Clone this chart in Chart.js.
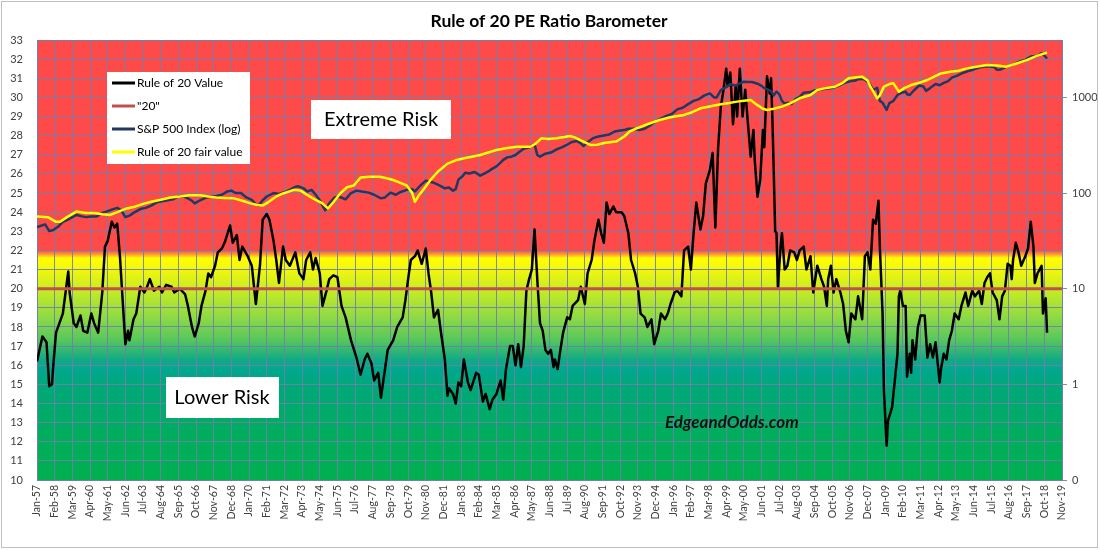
<!DOCTYPE html>
<html>
<head>
<meta charset="utf-8">
<script src="https://cdn.jsdelivr.net/npm/chart.js@4.4.1/dist/chart.umd.min.js"></script>
<style>
  html, body { margin: 0; padding: 0; background: #fff; }
  #wrap { width: 1100px; height: 550px; }
</style>
</head>
<body>
<div id="wrap"><canvas id="c" width="1100" height="550"></canvas></div>
<script>
// x values are months counted from Jan-57
const tickLabels = ["Jan-57","Feb-58","Mar-59","Apr-60","May-61","Jun-62","Jul-63","Aug-64","Sep-65","Oct-66","Nov-67","Dec-68",
  "Jan-70","Feb-71","Mar-72","Apr-73","May-74","Jun-75","Jul-76","Aug-77","Sep-78","Oct-79","Nov-80","Dec-81",
  "Jan-83","Feb-84","Mar-85","Apr-86","May-87","Jun-88","Jul-89","Aug-90","Sep-91","Oct-92","Nov-93","Dec-94",
  "Jan-96","Feb-97","Mar-98","Apr-99","May-00","Jun-01","Jul-02","Aug-03","Sep-04","Oct-05","Nov-06","Dec-07",
  "Jan-09","Feb-10","Mar-11","Apr-12","May-13","Jun-14","Jul-15","Aug-16","Sep-17","Oct-18","Nov-19"];

// Rule of 20 value (left axis)
const r20Months = [0,4,7,9,11,12,14,19,23,24,27,29,32,34,37,40,42,45,48,50,52,55,57,59,61,65,67,68,71,73,76,79,81,83,86,90,92,95,99,101,
  105,109,111,114,116,119,121,124,126,128,131,133,136,138,142,144,147,149,151,155,158,161,164,166,169,171,174,176,178,181,183,186,
  190,193,196,198,201,203,205,208,210,213,215,218,221,224,227,231,235,238,241,243,246,248,251,253,256,258,262,265,269,271,273,275,
  278,280,283,286,288,290,292,295,297,300,302,303,306,308,310,312,314,317,319,323,325,328,330,333,335,338,341,343,345,348,350,352,
  354,356,358,360,362,364,366,368,370,372,374,376,378,380,381,383,385,387,390,392,394,398,400,403,405,408,410,413,415,417,419,421,
  424,426,430,432,435,437,440,442,444,447,449,452,454,457,459,462,464,466,469,471,474,476,479,481,483,485,488,490,492,495,497,499,
  501,503,505,507,508,510,512,514,515,517,519,521,523,525,527,528,530,532,534,535,537,539,540,541,542,543,544,545,547,548,550,552,
  554,557,559,561,564,566,569,571,574,577,579,581,582,584,586,588,591,593,595,597,599,602,604,607,609,611,613,615,617,619,620,622,
  623,625,626,629,631,633,634,635,637,639,640,642,643,644,646,648,650,653,655,657,659,661,664,665,667,669,671,673,675,678,680,683,
  685,688,690,693,695,697,699,701,703,706,708,710,712,714,716,717,718,720,722,724,727,729,731,733,734,736,739,740,742,743];
const r20Values = [16.2,17.5,17.2,14.9,15.0,16.0,17.7,18.7,20.9,19.8,18.2,18.0,18.6,17.8,17.7,18.7,18.2,17.7,19.8,22.2,22.5,23.5,23.2,23.4,21.7,17.1,17.8,17.3,18.4,18.7,20.1,19.8,20.1,20.5,19.9,20.1,19.8,20.2,20.1,19.8,
  20.0,19.7,19.1,18.0,17.5,18.2,19.1,19.9,20.8,20.6,21.2,21.9,22.1,22.4,23.3,22.4,22.8,21.5,22.2,21.7,21.2,19.2,21.2,23.6,23.9,23.6,22.5,21.5,20.3,22.2,21.5,21.2,
  21.9,20.8,20.5,21.5,21.9,21.0,21.6,20.8,19.1,19.9,20.5,20.7,20.6,19.1,18.5,17.3,16.4,15.5,16.3,16.6,16.1,15.2,15.6,14.3,15.8,16.8,17.3,18.0,18.5,19.4,20.5,21.5,
  21.7,22.0,21.3,22.1,20.8,19.8,18.5,18.9,17.8,16.3,14.4,14.8,14.5,14.0,15.1,14.9,16.3,15.1,14.7,15.6,15.5,14.1,14.5,13.7,14.2,14.5,15.2,14.2,15.8,17.0,17.0,16.0,
  17.1,15.9,17.0,19.9,20.5,21.0,23.1,20.5,18.2,17.8,16.8,16.6,16.8,15.9,16.3,15.8,16.8,17.7,18.5,18.4,19.1,19.4,20.1,19.2,20.8,21.5,22.5,23.6,22.9,22.4,24.5,23.9,
  24.3,24.0,24.0,23.8,22.9,21.5,20.8,20.1,18.7,18.5,18.0,18.4,17.1,17.8,18.7,18.4,18.7,19.2,19.8,19.9,19.6,22.0,22.2,21.0,22.9,24.5,23.1,23.8,25.5,26.2,27.1,23.2,
  27.3,29.5,30.4,31.5,30.6,31.3,28.6,30.6,29.0,31.5,29.0,30.4,28.6,26.9,28.3,26.7,24.8,25.7,28.3,27.4,31.1,30.2,31.0,28.8,26.0,23.0,22.9,20.1,22.2,22.9,21.0,21.2,
  22.0,21.9,21.5,22.0,22.2,21.0,21.7,19.8,21.2,20.5,20.1,19.1,20.5,21.2,19.8,20.5,19.8,19.2,17.8,17.2,18.7,18.4,19.6,18.4,21.7,21.9,21.0,23.6,23.4,24.6,22.2,18.7,
  14.7,11.8,13.1,13.8,15.2,16.6,19.6,19.9,19.1,19.1,15.4,16.6,15.6,17.3,16.3,18.0,18.6,18.6,16.4,17.1,16.4,17.2,15.1,15.8,16.6,16.3,17.3,17.8,18.7,18.4,19.1,19.8,
  19.1,19.9,19.6,19.9,19.2,20.3,20.6,20.8,19.8,19.4,18.4,19.6,19.9,21.3,21.2,20.5,21.5,22.4,21.9,21.2,21.7,22.1,23.5,22.2,20.3,20.8,21.2,18.7,19.5,17.7];

// "20" reference line (left axis)
const twentyMonths = [0, 754];
const twentyValues = [20, 20];

// S&P 500 index (right log axis)
const spxMonths = [0,6,9,12,16,19,22,26,29,33,36,40,44,48,51,55,59,62,65,68,71,76,80,84,88,92,96,100,104,108,111,114,116,120,124,128,132,136,140,143,
  146,150,154,158,161,163,166,169,174,178,183,187,190,192,196,199,202,205,208,211,212,215,219,222,227,231,235,240,244,248,253,256,260,264,267,272,276,278,
  282,286,288,292,296,300,303,306,308,310,313,315,318,322,326,329,332,335,338,341,343,346,349,352,355,358,362,366,368,370,374,378,382,386,390,393,397,400,
  402,405,409,413,417,421,425,429,432,435,439,443,447,451,455,459,463,467,471,475,479,483,487,491,495,498,500,503,507,510,514,516,520,523,526,530,533,535,
  538,540,542,544,546,548,550,552,555,558,561,564,568,572,576,580,585,590,594,598,602,604,607,609,612,615,618,620,622,625,627,630,633,636,639,640,642,645,
  649,652,654,657,661,664,667,670,673,677,681,685,689,693,697,701,704,706,709,712,716,719,723,727,731,733,736,739,741,743];
const spxValues = [44,47,40,41,45,50,52,56,59,57,56,57,57,62,64,67,70,66,56,58,62,68,70,74,80,82,84,86,92,92,88,83,78,84,89,92,93,96,104,106,
  100,100,90,85,76,74,84,92,100,98,103,110,116,118,112,104,108,96,84,70,66,78,90,92,86,100,106,103,101,96,88,90,101,96,102,108,110,104,
  120,135,132,128,120,112,114,106,110,138,150,163,160,166,152,160,168,180,190,208,222,236,240,250,270,290,300,325,250,240,258,265,285,300,320,340,350,330,
  310,340,375,390,400,410,440,450,455,470,470,455,470,510,560,600,640,670,750,780,850,920,960,1050,1100,1000,1000,1190,1280,1370,1330,1380,1460,1450,1450,1390,1320,1250,
  1200,1160,1050,1150,1080,920,860,880,850,960,1010,1120,1130,1180,1200,1230,1250,1330,1420,1470,1500,1550,1560,1530,1420,1200,1260,920,880,740,870,920,1060,1120,1150,1080,1060,1180,
  1330,1300,1170,1250,1380,1340,1420,1470,1610,1690,1800,1880,1960,2050,2100,2100,2080,1950,1960,2060,2150,2240,2380,2470,2670,2700,2720,2900,2740,2550];

// Rule of 20 fair value (right log axis)
const fairMonths = [0,8,14,17,22,29,36,42,48,54,60,66,72,78,84,91,98,105,112,120,126,132,138,145,151,157,162,166,170,176,181,189,194,199,205,210,214,218,223,228,
  233,238,245,252,258,262,266,272,276,278,281,285,290,295,302,308,314,320,326,332,338,346,353,363,367,371,376,382,388,392,396,402,407,412,418,426,432,436,441,450,
  458,466,476,482,488,494,500,508,515,520,525,530,534,537,542,548,554,561,569,574,580,587,592,597,603,607,611,613,616,618,620,623,627,630,634,638,643,649,655,660,
  665,672,678,684,692,699,706,713,720,728,735,740,743];
const fairValues = [57,56,50,50,56,64,62,62,60,59,64,69,72,77,81,85,90,92,95,95,92,90,89,88,83,78,75,74,80,92,99,108,106,95,85,78,69,80,99,115,
  120,145,148,148,142,137,130,120,100,81,95,112,140,168,203,220,231,240,250,265,282,295,305,305,330,373,368,373,385,395,380,345,318,320,335,345,390,440,475,530,
  581,620,656,700,769,800,834,870,903,920,940,830,760,738,760,800,866,978,1059,1194,1250,1295,1400,1585,1620,1648,1500,1295,1100,978,1050,1295,1380,1403,1148,1250,1346,1420,1520,1650,
  1780,1850,1900,2010,2100,2180,2150,2094,2250,2455,2700,2850,2940];

const logTicks = [0.1, 1, 10, 100, 1000];

function toPoints(xs, ys) {
    return xs.map((m, i) => ({ x: m, y: ys[i] }));
}

Chart.defaults.font.family = "Lato, 'Liberation Sans', sans-serif";

const gridColor = "rgba(112,128,172,0.9)";

// chart area background: red / yellow / green bands keyed to the left axis
const bandPlugin = {
    id: 'bands',
    beforeDraw(chart) {
        const ctx = chart.ctx;
        const area = chart.chartArea;
        const y = chart.scales.y;
        ctx.save();
        ctx.fillStyle = '#ffffff';
        ctx.fillRect(0, 0, chart.width, chart.height);
        const g = ctx.createLinearGradient(0, area.top, 0, area.bottom);
        const stops = [
            [33, '#ff4a4a'], [22.0, '#ff4a4a'], [21.8, '#ff9a32'], [21.6, '#ffff00'],
            [21.0, '#f2f70e'], [20.0, '#c9ec22'], [18.6, '#92db44'], [17.3, '#56c65e'],
            [16.3, '#12aa86'], [15.7, '#00a78e'], [15.0, '#00a87a'], [12.5, '#00ad5e'], [10, '#00b050']
        ];
        stops.forEach(s => {
            const f = (y.getPixelForValue(s[0]) - area.top) / (area.bottom - area.top);
            g.addColorStop(Math.min(1, Math.max(0, f)), s[1]);
        });
        ctx.fillStyle = g;
        ctx.fillRect(area.left, area.top, area.right - area.left, area.bottom - area.top);
        ctx.restore();
    },
    afterDraw(chart) {
        const ctx = chart.ctx;
        ctx.save();
        // title
        ctx.fillStyle = '#000';
        ctx.font = "bold 17.5px Lato";
        ctx.textAlign = 'center';
        ctx.textBaseline = 'middle';
        ctx.fillText('Rule of 20 PE Ratio Barometer', 549, 21);

        // legend
        ctx.fillStyle = '#fff';
        ctx.fillRect(107, 72, 143, 92);
        const entries = [
            ['Rule of 20 Value', '#000000'],
            ['"20"', '#c0504d'],
            ['S&P 500 Index (log)', '#1f3864'],
            ['Rule of 20 fair value', '#ffff00']
        ];
        ctx.textAlign = 'left';
        ctx.font = "12px Lato";
        entries.forEach((e, i) => {
            const ly = 83 + i * 23;
            ctx.strokeStyle = e[1];
            ctx.lineWidth = 3;
            ctx.beginPath();
            ctx.moveTo(112, ly);
            ctx.lineTo(135, ly);
            ctx.stroke();
            ctx.fillStyle = '#000';
            ctx.fillText(e[0], 137, ly);
        });

        // risk labels
        ctx.fillStyle = '#fff';
        ctx.fillRect(311, 100, 140, 39);
        ctx.fillRect(166, 377, 113, 41);
        ctx.fillStyle = '#000';
        ctx.font = "20px Lato";
        ctx.textAlign = 'center';
        ctx.fillText('Extreme Risk', 381, 120);
        ctx.fillText('Lower Risk', 222, 398);

        ctx.font = "italic bold 17px Lato";
        ctx.textAlign = 'left';
        ctx.fillStyle = '#111';
        ctx.fillText('EdgeandOdds.com', 665, 423);

        // outer frame
        ctx.strokeStyle = '#bfbfbf';
        ctx.lineWidth = 1;
        ctx.strokeRect(1.5, 1.5, 1096, 546);
        ctx.restore();
    }
};

const datasets = [
    {
        label: 'Rule of 20 fair value',
        data: toPoints(fairMonths, fairValues),
        yAxisID: 'y2',
        borderColor: '#ffff00',
        borderWidth: 2.5,
        order: 0
    }, {
        label: 'S&P 500 Index (log)',
        data: toPoints(spxMonths, spxValues),
        yAxisID: 'y2',
        borderColor: '#1f3864',
        borderWidth: 2.5,
        order: 1
    }, {
        label: '"20"',
        data: toPoints(twentyMonths, twentyValues),
        yAxisID: 'y',
        borderColor: '#c0504d',
        borderWidth: 3,
        order: 2
    }, {
        label: 'Rule of 20 Value',
        data: toPoints(r20Months, r20Values),
        yAxisID: 'y',
        borderColor: '#000000',
        borderWidth: 2.5,
        order: 3
    }
];

const config = {
    type: 'line',
    data: { datasets: datasets },
    options: {
        responsive: false,
        animation: false,
        events: [],
        layout: { padding: { top: 40, left: 0, right: 0, bottom: 0 } },
        elements: {
            point: { radius: 0 },
            line: { tension: 0, borderJoinStyle: 'round', fill: false }
        },
        plugins: {
            legend: { display: false },
            title: { display: false },
            tooltip: { enabled: false }
        },
        scales: {
            x: {
                type: 'linear',
                min: 0,
                max: 754,
                afterFit: s => { s.height = 70; },
                grid: { color: gridColor, drawTicks: false },
                border: { color: gridColor },
                ticks: {
                    stepSize: 13,
                    autoSkip: false,
                    minRotation: 90,
                    maxRotation: 90,
                    padding: 5,
                    color: '#404040',
                    font: { size: 10.5 },
                    callback: v => tickLabels[Math.round(v / 13)]
                }
            },
            y: {
                position: 'left',
                min: 10,
                max: 33,
                afterFit: s => { s.width = 37; },
                grid: { color: gridColor, drawTicks: false },
                border: { color: gridColor },
                ticks: { stepSize: 1, padding: 14, color: '#404040', font: { size: 11 } }
            },
            y2: {
                type: 'logarithmic',
                position: 'right',
                min: 0.1,
                max: 3981,
                afterFit: s => { s.width = 38; },
                afterBuildTicks: s => { s.ticks = logTicks.map(v => ({ value: v })); },
                grid: { drawOnChartArea: false, drawTicks: true, tickLength: 5, color: '#8c8c8c' },
                border: { color: gridColor },
                ticks: {
                    padding: 5,
                    color: '#404040',
                    font: { size: 11 },
                    callback: v => (v < 1 ? '0' : String(v))
                }
            }
        }
    },
    plugins: [bandPlugin]
};

const myChart = new Chart(document.getElementById('c').getContext('2d'), config);
</script>
</body>
</html>
